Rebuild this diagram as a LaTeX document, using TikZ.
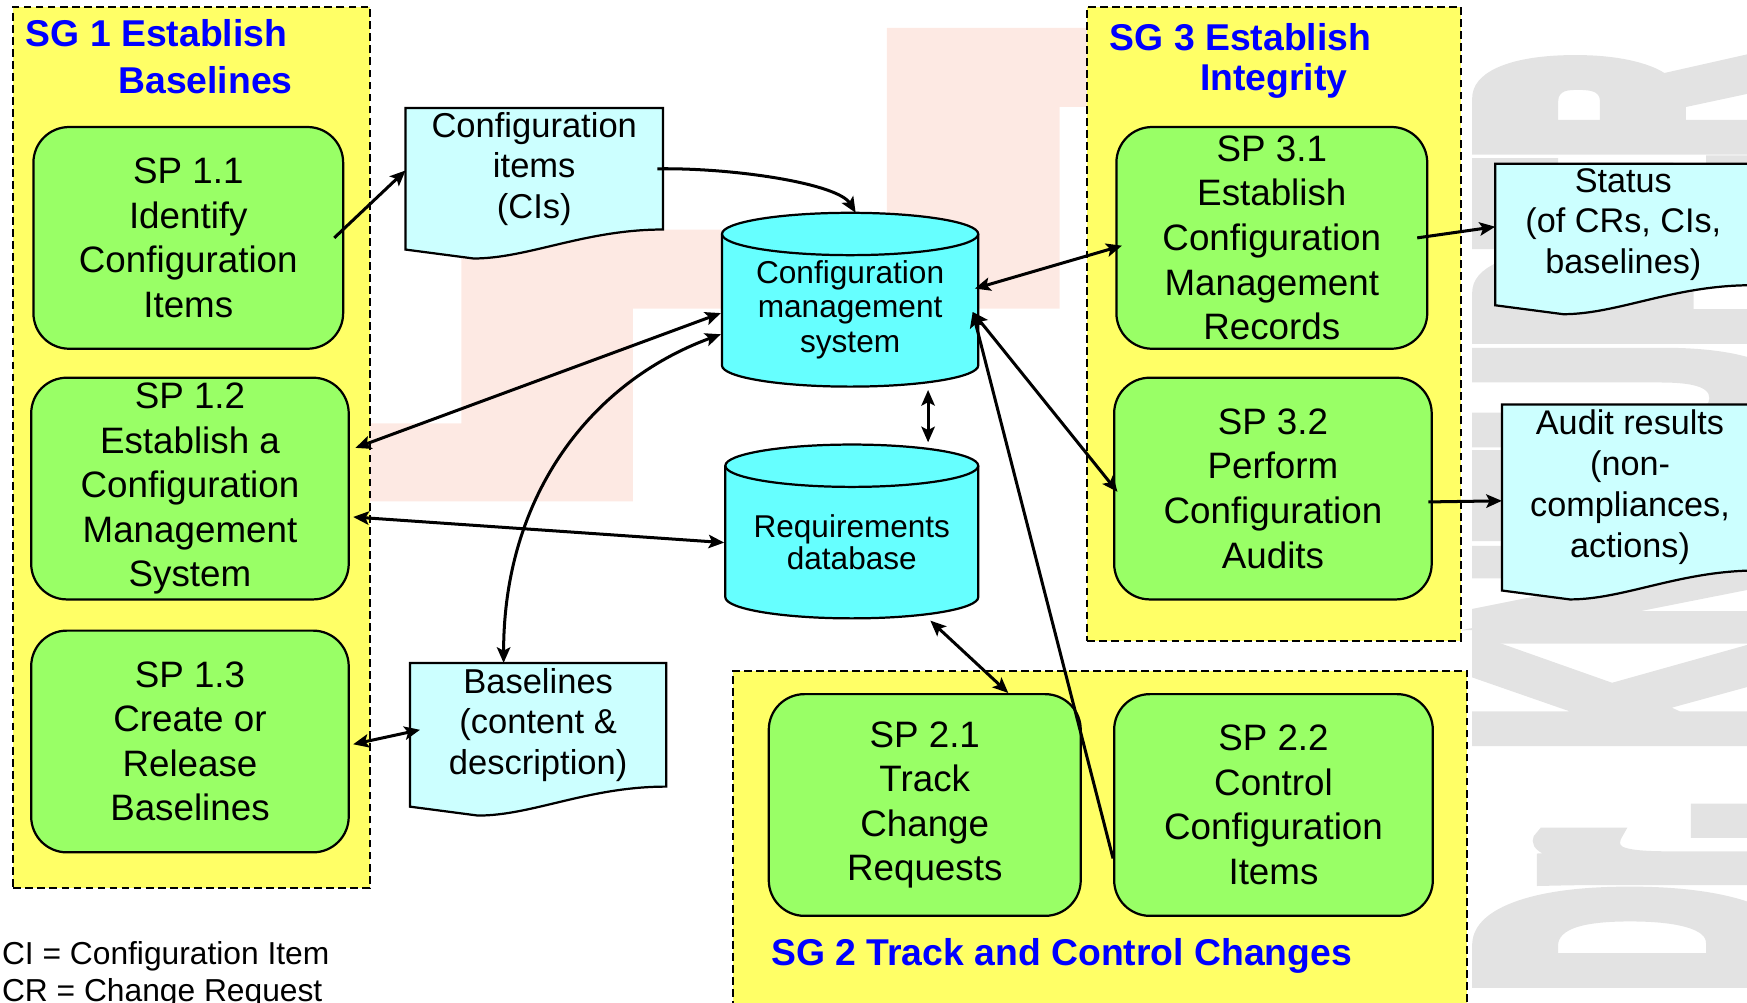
\documentclass[tikz,border=0pt]{standalone}
\usepackage{fontspec}
\setmainfont{Liberation Sans}
\newfontfamily\markfont{Liberation Sans Bold}[FakeBold=10]
\usetikzlibrary{arrows.meta,calc}

\definecolor{sgyellow}{RGB}{255,255,102}
\definecolor{spgreen}{RGB}{153,255,102}
\definecolor{dbcyan}{RGB}{102,255,255}
\definecolor{doccyan}{RGB}{204,255,255}
\definecolor{sgblue}{RGB}{0,0,255}
\definecolor{logopink}{RGB}{253,233,227}
\definecolor{markgray}{RGB}{227,227,227}

% strut that centres a line block just below the middle of its capitals
\newcommand\cstrut{\rule[-\dimexpr(\baselineskip-1.2em)/2\relax]{0pt}{\baselineskip}}
\newcommand\txt[2]{\fontsize{#1}{#2}\selectfont}

% document symbol with a wavy lower edge, drawn round an empty body node
\newcommand\drawdoc[1]{%
  \filldraw[docline] (#1.north west) -- (#1.north east) -- (#1.south east)
    .. controls ($(#1.south east)+(-70,0)$) and ($(#1.south west)+(110,26)$) .. ($(#1.south west)+(61,26)$)
    -- ($(#1.south west)+(0,18)$) -- cycle;}

% database cylinder round an empty body node: #2 = x radius, #3 = y radius
\newcommand\drawdb[3]{%
  \filldraw[dbline] (#1.north west) -- (#1.south west)
    arc[start angle=180,end angle=0,x radius=#2,y radius=#3]
    -- (#1.north east)
    arc[start angle=0,end angle=-180,x radius=#2,y radius=#3] -- cycle;
  \draw[dbline,fill=none] (#1.north west) arc[start angle=180,end angle=0,x radius=#2,y radius=#3];}

\begin{document}
\begin{tikzpicture}[x=1pt,y=-1pt,
  >={Stealth[length=14pt,width=12pt,inset=3pt]},
  goal/.style={draw=black,fill=sgyellow,line width=1.9pt,dash pattern=on 7pt off 3.8pt,inner sep=0pt},
  practice/.style={draw=black,fill=spgreen,line width=2pt,rounded corners=32pt,align=center,
    inner sep=0pt,font=\txt{33}{40},execute at begin node=\cstrut,execute at end node=\cstrut},
  body/.style={draw=none,inner sep=0pt,outer sep=0pt},
  textlines/.style={align=center,inner sep=0pt,execute at begin node=\cstrut,execute at end node=\cstrut},
  heading/.style={align=left,inner sep=0pt,text=sgblue,anchor=west,
    execute at begin node=\cstrut,execute at end node=\cstrut},
  docline/.style={draw=black,fill=doccyan,line width=2pt},
  dbline/.style={draw=black,fill=dbcyan,line width=2pt},
  conn/.style={line width=2.7pt}]

\useasboundingbox (0,0) rectangle (1568,900);
\clip (0,0) rectangle (1568,900);

% background logo and watermark
\fill[logopink] (796,25) -- (985,25) -- (985,96) -- (951,96) -- (951,277) -- (568,277)
  -- (568,450) -- (300,450) -- (300,380) -- (414,380) -- (414,206) -- (796,206) -- cycle;
\node[rotate=90,anchor=base west,inner sep=0pt,text=markgray,
  font=\markfont\fontsize{364}{364}\selectfont] (mark) at (1590,889)
  {\scalebox{0.35}[1]{Dr. KNEUPER}};

% specific goal areas
\node[goal,minimum width=320pt,minimum height=791pt] (sg1) at (172,401.5) {};
\node[goal,minimum width=335pt,minimum height=569pt] (sg3) at (1143.5,290.5) {};
\node[goal,minimum width=659pt,minimum height=308pt] (sg2) at (987.5,756) {};

\node[heading,font=\bfseries\txt{33.5}{42}] (sg1t) at (23,51) {SG 1 Establish\\\hspace*{83pt}Baselines};
\node[heading,font=\bfseries\txt{33.5}{36}] (sg3t) at (996,54.5) {SG 3 Establish\\\hspace*{81pt}Integrity};
\node[heading,font=\bfseries\txt{33.5}{36}] (sg2t) at (692,851) {SG 2 Track and Control Changes};

% work products
\node[body,minimum width=231pt,minimum height=109pt] (ci) at (479.5,151.5) {};
\drawdoc{ci}
\node[textlines,font=\txt{31}{36.5}] (cit) at (ci.center) {Configuration\\items\\(CIs)};

\node[body,minimum width=230pt,minimum height=111pt] (bl) at (483,650.5) {};
\drawdoc{bl}
\node[textlines,font=\txt{31}{36.5}] (blt) at (bl.center) {Baselines\\(content \&\\description)};

\node[body,minimum width=230pt,minimum height=109pt] (st) at (1457,201.5) {};
\drawdoc{st}
\node[textlines,font=\txt{30.7}{36.7}] (stt) at (st.center) {Status\\(of CRs, CIs,\\baselines)};

\node[body,minimum width=230pt,minimum height=149pt] (au) at (1463,437.5) {};
\drawdoc{au}
\node[textlines,font=\txt{30.7}{36.7}] (aut) at (au.center) {Audit results\\(non-\\compliances,\\actions)};

% repositories
\node[body,minimum width=230pt,minimum height=118pt] (cms) at (763,269) {};
\drawdb{cms}{115}{19}
\node[textlines,font=\txt{28.4}{31}] (cmst) at ($(cms.center)+(0,9)$) {Configuration\\management\\system};

\node[body,minimum width=227pt,minimum height=118pt] (rdb) at (764.5,477) {};
\drawdb{rdb}{113.5}{19}
\node[textlines,font=\txt{28.3}{28.7}] (rdbt) at ($(rdb.center)+(0,9.5)$) {Requirements\\database};

% specific practices
\node[practice,minimum width=278pt,minimum height=199pt] (sp11) at (169,213.5) {SP 1.1\\Identify\\Configuration\\Items};
\node[practice,minimum width=285pt,minimum height=199pt] (sp12) at (170.5,438.5) {SP 1.2\\Establish a\\Configuration\\Management\\System};
\node[practice,minimum width=285pt,minimum height=199pt] (sp13) at (170.5,665.5) {SP 1.3\\Create or\\Release\\Baselines};
\node[practice,minimum width=279pt,minimum height=199pt] (sp31) at (1141.5,213.5) {SP 3.1\\Establish\\Configuration\\Management\\Records};
\node[practice,minimum width=285pt,minimum height=199pt] (sp32) at (1142.5,438.5) {SP 3.2\\Perform\\Configuration\\Audits};
\node[practice,minimum width=280pt,minimum height=199pt] (sp21) at (830,722.5) {SP 2.1\\Track\\Change\\Requests};
\node[practice,minimum width=286pt,minimum height=199pt] (sp22) at (1143,722.5) {SP 2.2\\Control\\Configuration\\Items};

% abbreviations
\node[textlines,align=left,anchor=west,font=\txt{28.5}{33}] (abbr) at (1.6,875) {CI = Configuration Item\\CR = Change Request};

% information flows
\draw[->,conn] ($(sp11.east)+(-9,0)$) -- ($(ci.west)+(0,1.5)$);
\draw[->,conn] ($(ci.east)+(-5,0)$) .. controls +(70,-1) and +(-16,-26) .. ($(cms.north)+(5,-19)$);
\draw[<->,conn] ($(cms.west)+(-1,12)$) -- ($(sp12.east)+(5,-36.5)$);
\draw[<->,conn] ($(cms.west)+(-1,31)$) .. controls +(-117,43) and +(0,-150) .. ($(bl.north)+(-31,0)$);
\draw[<->,conn] ($(sp12.east)+(3,25.5)$) -- ($(rdb.west)+(-1,10)$);
\draw[<->,conn] ($(sp13.east)+(3,2.5)$) -- ($(bl.west)+(9,4.5)$);
\draw[<->,conn] ($(cms.south)+(70,22)$) -- ($(rdb.north)+(68.5,-21)$);
\draw[<->,conn] ($(rdb.south)+(70.5,21)$) -- ($(sp21.north)+(75,0)$);
\draw[<->,conn] ($(cms.east)+(-3,-10)$) -- ($(sp31.west)+(6,7)$);
\draw[<->,conn] ($(cms.east)+(-5,11)$) -- ($(sp32.west)+(4,3)$);
\draw[->,conn] ($(sp22.west)+(0,48)$) -- ($(cms.east)+(-5,11)$);
\draw[->,conn] ($(sp31.east)+(-10,0)$) -- ($(st.west)+(0,2)$);
\draw[->,conn] ($(sp32.east)+(-4,12)$) -- ($(au.west)+(0,12)$);

\end{tikzpicture}
\end{document}
